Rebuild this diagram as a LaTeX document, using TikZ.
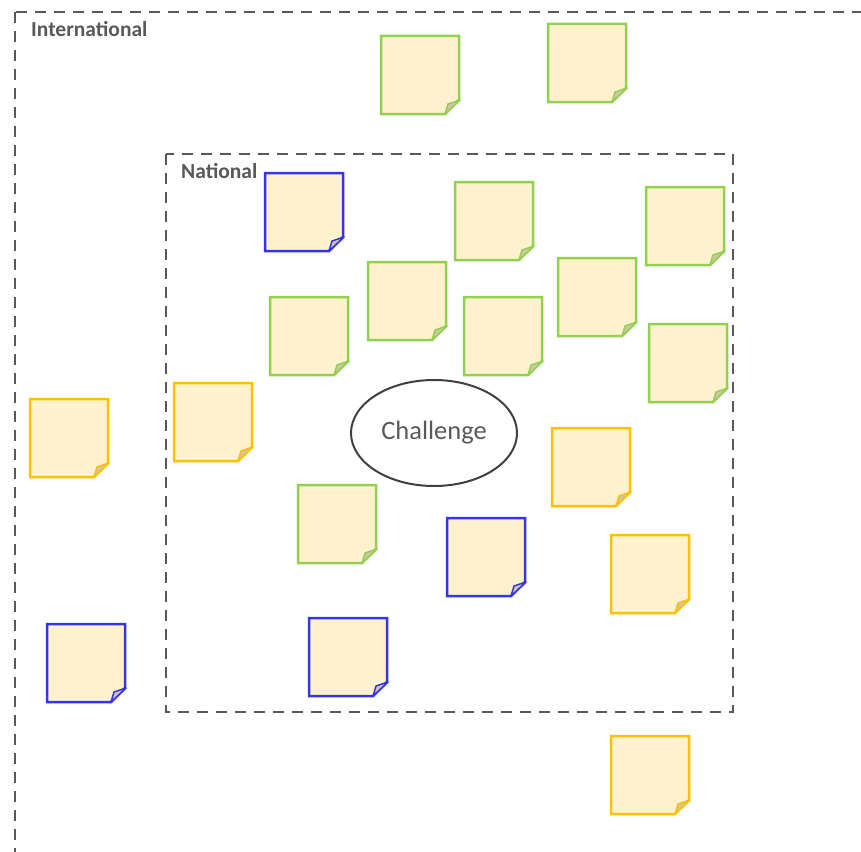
\documentclass[tikz,border=0pt]{standalone}
\usepackage{fontspec}
\setmainfont{Carlito}
\usepackage{xcolor}
\usepackage{tikz}
\usetikzlibrary{shapes.geometric}

\definecolor{notefill}{HTML}{FFF2CC}
\definecolor{flapfill}{HTML}{CFC6A8}
\definecolor{grn}{HTML}{92D050}
\definecolor{blu}{HTML}{3434E8}
\definecolor{ylw}{HTML}{FFC000}
\definecolor{boxgray}{HTML}{595959}
\definecolor{ellgray}{HTML}{404040}

\tikzset{
  pics/stickynote/.style={code={
    \fill[notefill] (0,0) -- (78,0) -- (78,64) -- (64,78) -- (0,78) -- cycle;
    \draw[#1,line width=2.5pt] (0,0) -- (78,0) -- (78,64) -- (64,78) -- (0,78) -- cycle;
    \filldraw[draw=#1,fill=flapfill,line width=1.5pt,line join=round] (64,78) -- (67,68) -- (79,64) -- cycle;
  }},
  zone/.style={draw=boxgray,line width=2.4pt,dash pattern=on 11pt off 8pt},
  zonelabel/.style={anchor=base west,inner sep=0pt,text=boxgray,font=\bfseries\fontsize{21.5}{24}\selectfont}
}

\begin{document}
\begin{tikzpicture}[x=1pt,y=-1pt]
  \useasboundingbox (0,0) rectangle (861,851);
  \clip (0,0) rectangle (861,851);
  % zones
  \draw[zone] (15,12) rectangle (900,900);
  \node[zonelabel] (intl) at (31,37) {International};
  \draw[zone] (166,154) rectangle (733,712);
  \node[zonelabel] (natl) at (181,178) {National};
  % sticky notes
  \foreach \x/\y [count=\i] in {381/36,548/24,455/182,646/187,368/262,270/297,464/297,558/258,649/324,298/485}
    \pic (g\i) at (\x,\y) {stickynote=grn};
  \foreach \x/\y [count=\i] in {265/173,447/518,309/618,47/624}
    \pic (b\i) at (\x,\y) {stickynote=blu};
  \foreach \x/\y [count=\i] in {30/399,174/383,552/428,611/535,611/736}
    \pic (y\i) at (\x,\y) {stickynote=ylw};
  % centre
  \node[ellipse,draw=ellgray,line width=2pt,minimum width=166pt,minimum height=106pt,inner sep=0pt,
        text=boxgray,font=\fontsize{26.5}{30}\selectfont] (challenge) at (434,433) {Challenge};
\end{tikzpicture}
\end{document}
